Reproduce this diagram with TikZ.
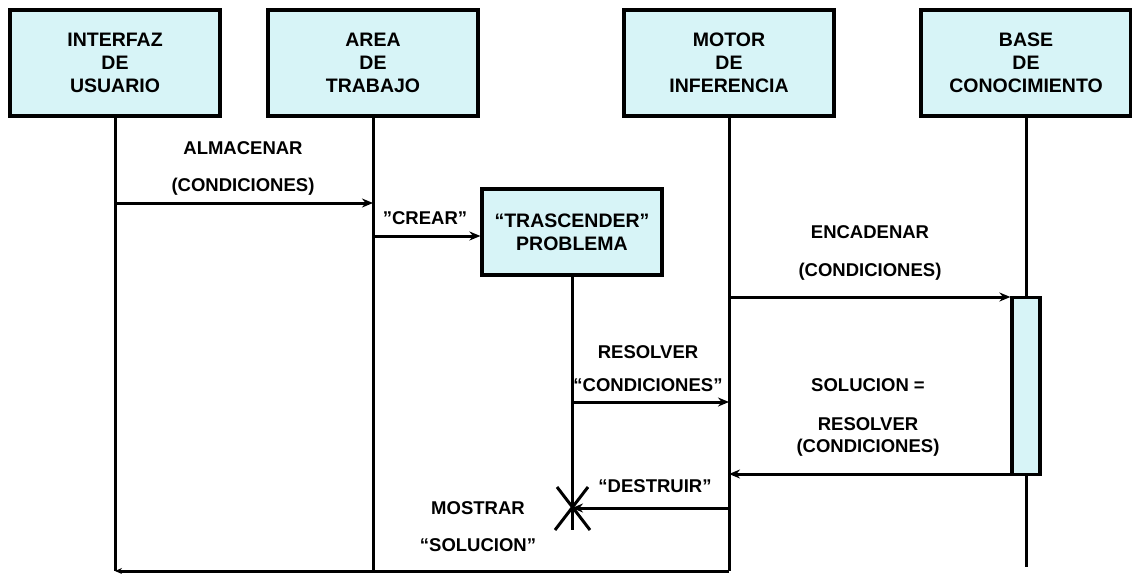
\documentclass[tikz,border=0pt]{standalone}
\usepackage{fontspec}
\setmainfont{Liberation Sans}
\usetikzlibrary{arrows.meta}
\definecolor{boxfill}{RGB}{215,244,247}
\begin{document}
\begin{tikzpicture}[x=1pt,y=-1pt,
  obj/.style={draw=black, line width=3.2pt, fill=boxfill, minimum width=210pt, minimum height=106pt,
    align=center, inner sep=0pt, font=\bfseries\fontsize{19.5}{23}\selectfont},
  actbar/.style={draw=black, line width=3.2pt, fill=boxfill, minimum width=28pt, minimum height=177pt, inner sep=0pt},
  life/.style={line width=3pt},
  msg/.style={line width=3pt, -{Stealth[length=11pt,width=9pt]}},
  lbl/.style={font=\bfseries\fontsize{18.5}{22}\selectfont, align=center, inner sep=0pt}]
\useasboundingbox (0,0) rectangle (1132,573);
% objects
\node[obj] (ui) at (115,63) {INTERFAZ\\DE\\USUARIO};
\node[obj] (aw) at (373,63) {AREA\\DE\\TRABAJO};
\node[obj] (ie) at (729,63) {MOTOR\\DE\\INFERENCIA};
\node[obj] (kb) at (1026,63) {BASE\\DE\\CONOCIMIENTO};
\node[obj, minimum width=180pt, minimum height=86pt] (tp) at (572,232) {“TRASCENDER”\\PROBLEMA};
\node[actbar] (act) at (1026,386) {};
% lifeline ends
\coordinate (uiEnd) at (115,571);
\coordinate (awEnd) at (373,571);
\coordinate (ieEnd) at (729,571);
\coordinate (kbEnd) at (1026,567);
\coordinate (xm) at (572,508);
\coordinate (tpEnd) at (572,530);
% lifelines
\draw[life] (ui.south) -- (uiEnd);
\draw[life] (aw.south) -- (awEnd);
\draw[life] (ie.south) -- (ieEnd);
\draw[life] (kb.south) -- (act.north);
\draw[life] (act.south) -- (kbEnd);
\draw[life] (tp.south) -- (tpEnd);
% destroy mark
\draw[life] (xm) ++(-17,22) -- ++(33,-43);
\draw[life] (xm) ++(-15,-21) -- ++(33,43);
% messages
\draw[msg] (ui.south |- 0,203) -- (aw.south |- 0,203);
\draw[msg] (aw.south |- 0,236) -- (tp.west |- 0,236);
\draw[msg] (ie.south |- 0,297) -- (act.west |- 0,297);
\draw[msg] (tp.south |- 0,402) -- (ie.south |- 0,402);
\draw[msg] (act.west |- 0,474) -- (ie.south |- 0,474);
\draw[msg] (ie.south |- xm) -- (xm);
\draw[line width=3pt, -{Stealth[length=7pt,width=6pt]}] (ieEnd) -- (uiEnd);
% labels
\node[lbl] (l1) at (243,148) {ALMACENAR};
\node[lbl] (l2) at (243,187) {(CONDICIONES)};
\node[lbl] (l3) at (425,218) {”CREAR”};
\node[lbl] (l4) at (870,232) {ENCADENAR};
\node[lbl] (l5) at (870,272) {(CONDICIONES)};
\node[lbl] (l6) at (648,352) {RESOLVER};
\node[lbl] (l7) at (648,385) {“CONDICIONES”};
\node[lbl] (l8) at (868,385) {SOLUCION =};
\node[lbl] (l9) at (868,424) {RESOLVER};
\node[lbl] (l10) at (868,448) {(CONDICIONES)};
\node[lbl] (l11) at (655,486) {“DESTRUIR”};
\node[lbl] (l12) at (478,508) {MOSTRAR};
\node[lbl] (l13) at (478,545) {“SOLUCION”};
\end{tikzpicture}
\end{document}
